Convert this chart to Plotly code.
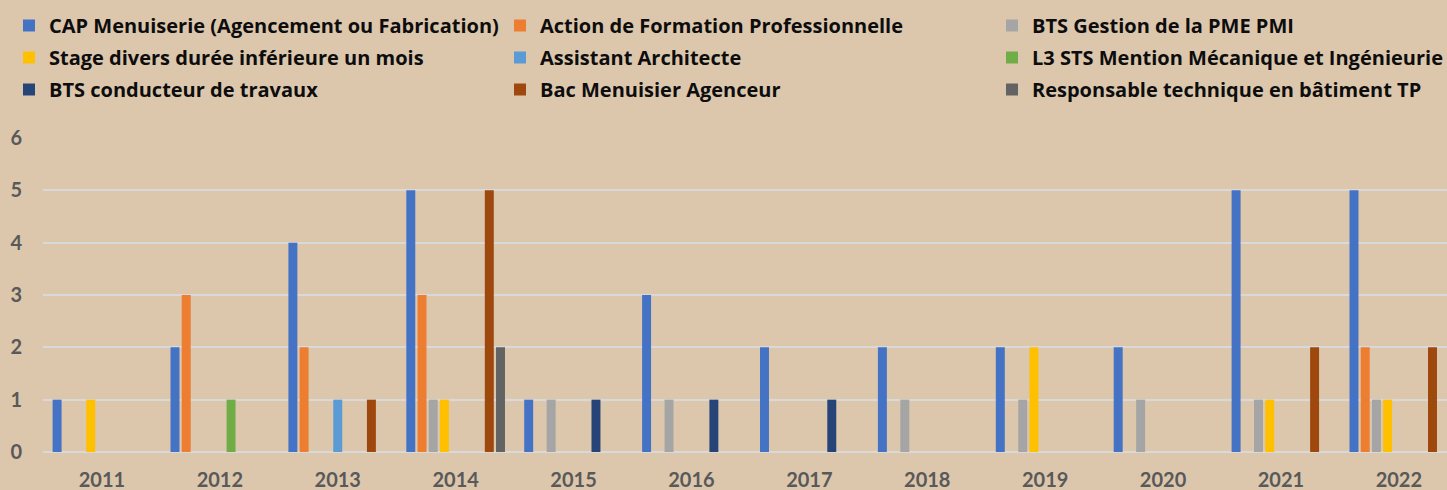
import plotly.graph_objects as go

years = ["2011", "2012", "2013", "2014", "2015", "2016", "2017", "2018", "2019", "2020", "2021", "2022"]

series_names = [
    "CAP Menuiserie (Agencement ou Fabrication)",
    "Action de Formation Professionnelle",
    "BTS Gestion de la PME PMI",
    "Stage divers durée inférieure un mois",
    "Assistant Architecte",
    "L3 STS Mention Mécanique et Ingénieurie",
    "BTS conducteur de travaux",
    "Bac Menuisier Agenceur",
    "Responsable technique en bâtiment TP",
]

cap_menuiserie = [1, 2, 4, 5, 1, 3, 2, 2, 2, 2, 5, 5]
action_formation = [0, 3, 2, 3, 0, 0, 0, 0, 0, 0, 0, 2]
bts_gestion = [0, 0, 0, 1, 1, 1, 0, 1, 1, 1, 1, 1]
stage_divers = [1, 0, 0, 1, 0, 0, 0, 0, 2, 0, 1, 1]
assistant_architecte = [0, 0, 1, 0, 0, 0, 0, 0, 0, 0, 0, 0]
l3_sts = [0, 1, 0, 0, 0, 0, 0, 0, 0, 0, 0, 0]
bts_conducteur = [0, 0, 0, 0, 1, 1, 1, 0, 0, 0, 0, 0]
bac_menuisier = [0, 0, 1, 5, 0, 0, 0, 0, 0, 0, 2, 2]
responsable_tech = [0, 0, 0, 2, 0, 0, 0, 0, 0, 0, 0, 0]

series_values = [
    cap_menuiserie, action_formation, bts_gestion, stage_divers,
    assistant_architecte, l3_sts, bts_conducteur, bac_menuisier, responsable_tech,
]

colors = ["#4472C4", "#ED7D31", "#A5A5A5", "#FFC000", "#5B9BD5",
          "#70AD47", "#264478", "#9E480E", "#636363"]

# column assignment of legend entries (3 columns)
legend_ids = ["legend", "legend2", "legend3"] * 3

W, H = 1447, 490
L, R, T, B = 43, 0, 138, 38
pw = W - L - R
ph = H - T - B
cat_px = 117.9

fig = go.Figure()
for i, (name, vals, col) in enumerate(zip(series_names, series_values, colors)):
    fig.add_trace(go.Bar(
        x=years, y=vals, name=name,
        marker=dict(color=col, line=dict(width=0)),
        legend=legend_ids[i], legendgroup=name,
        hoverinfo="x+y+name",
    ))

BG = "#DCC7AD"
tick_family = "Lato"
legend_family = "Open Sans"


def lx(px):
    return (px - L) / pw


def ly(px):
    return 1 + (T - px) / ph


legend_common = dict(
    orientation="v", xanchor="left", yanchor="top",
    bgcolor="rgba(0,0,0,0)", borderwidth=0,
    font=dict(family=legend_family, size=20, color="#0D0D0D", weight="bold"),
    traceorder="grouped", tracegroupgap=3,
)

fig.update_layout(
    width=W, height=H,
    margin=dict(l=L, r=R, t=T, b=B, pad=0, autoexpand=False),
    paper_bgcolor=BG, plot_bgcolor=BG,
    barmode="group", bargap=0.144, bargroupgap=0.2,
    showlegend=True,
    legend=dict(x=lx(9), y=ly(6), **legend_common),
    legend2=dict(x=lx(500), y=ly(6), **legend_common),
    legend3=dict(x=lx(992), y=ly(6), **legend_common),
    xaxis=dict(
        type="category", range=[-0.5, -0.5 + pw / cat_px], automargin=False,
        showgrid=False, zeroline=False, showline=False,
        ticks="", ticklabelstandoff=14,
        tickfont=dict(family=tick_family, size=20, color="#595959", weight="bold"),
    ),
    yaxis=dict(
        range=[0, 6], dtick=1, tick0=0, automargin=False,
        showgrid=True, gridcolor="#D9D9D9", gridwidth=1.5,
        zeroline=True, zerolinecolor="#D9D9D9", zerolinewidth=1.5,
        showline=False, ticks="", ticklabelstandoff=20,
        tickfont=dict(family=tick_family, size=20, color="#595959", weight="bold"),
    ),
)

fig.write_html("out.html")
